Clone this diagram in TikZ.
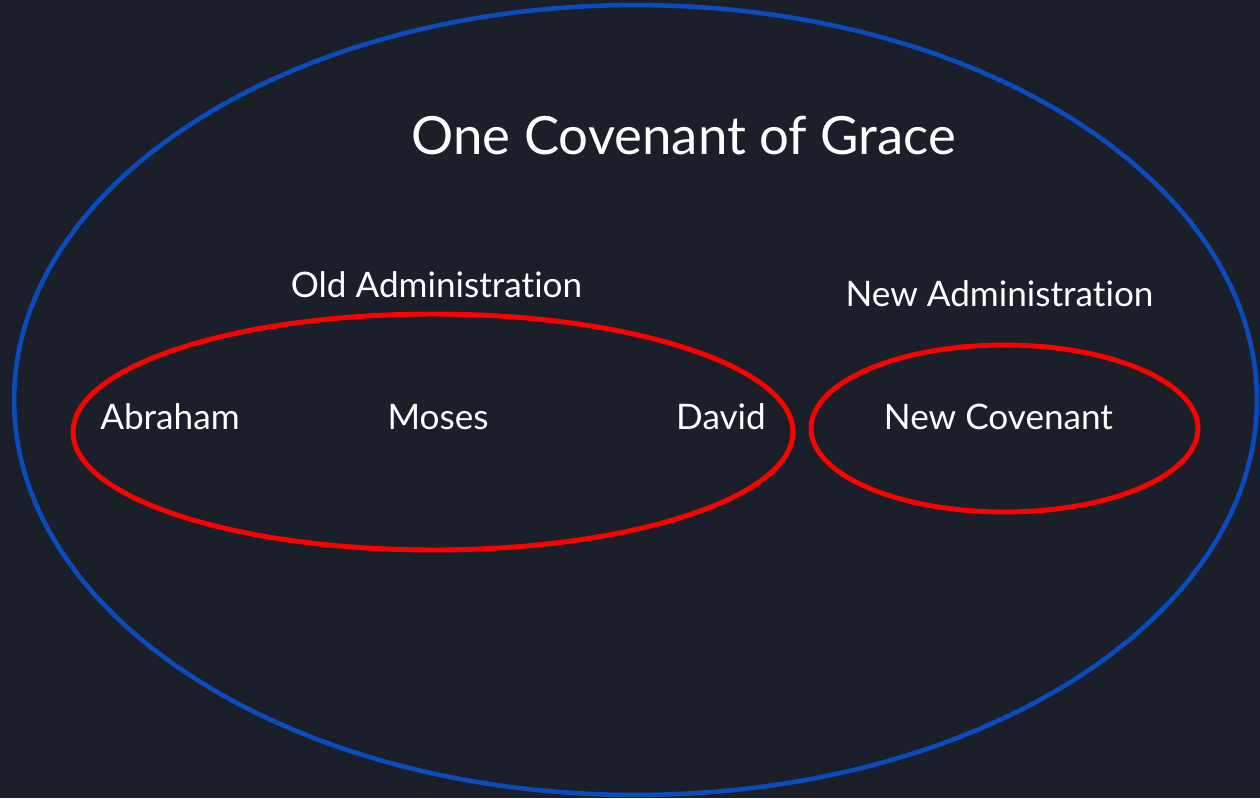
\documentclass[tikz,border=0pt]{standalone}
\usepackage{fontspec}
\setmainfont{Lato}[Ligatures=NoCommon]
\usepackage{xcolor}
\definecolor{BGCOLOR}{HTML}{1B1F2A}
\definecolor{GRACECOLOR}{HTML}{0A4CBE}
\colorlet{ADMINCOLOR}{red}
\colorlet{TEXTCOLOR}{white}
\usetikzlibrary{shapes.geometric,positioning}
\tikzset{
  ring-style/.style = {
    ellipse, draw=#1, inner sep=0pt
  },
  grace-style/.style = {
    ring-style=GRACECOLOR, line width=2.6pt
  },
  admin-style/.style = {
    ring-style=ADMINCOLOR, line width=2.8pt
  },
  title-style/.style = {
    text=TEXTCOLOR, anchor=base, inner sep=0pt,
    font=\fontsize{30}{36}\selectfont
  },
  label-style/.style = {
    text=TEXTCOLOR, anchor=base, inner sep=0pt,
    font=\fontsize{20}{24}\selectfont
  }
}

\begin{document}
\begin{tikzpicture}[x=0.02cm,y=-0.02cm]
    %%% background
    \fill[BGCOLOR] (0,0) rectangle (1260,798);
    \useasboundingbox (0,0) rectangle (1260,798);

    %%% covenant of grace
    \node[grace-style,minimum width=24.86cm,minimum height=15.8cm] (grace) at (635.5,400) {};
    \node[title-style] (graceTitle) at (684,154) {One Covenant of Grace};

    %%% old administration
    \node[admin-style,minimum width=14.4cm,minimum height=4.72cm] (oldRing) at (433,432) {};
    \node[label-style] (oldTitle) at (436.5,297) {Old Administration};
    \node[label-style] (abraham) at (170,429) {Abraham};
    \node[label-style] (moses) at (438,429) {Moses};
    \node[label-style] (david) at (721,429) {David};

    %%% new administration
    \node[admin-style,minimum width=7.74cm,minimum height=3.34cm] (newRing) at (1004.5,428.5) {};
    \node[label-style] (newTitle) at (999.5,306) {New Administration};
    \node[label-style] (newCovenant) at (998.5,429) {New Covenant};
\end{tikzpicture}
\end{document}
